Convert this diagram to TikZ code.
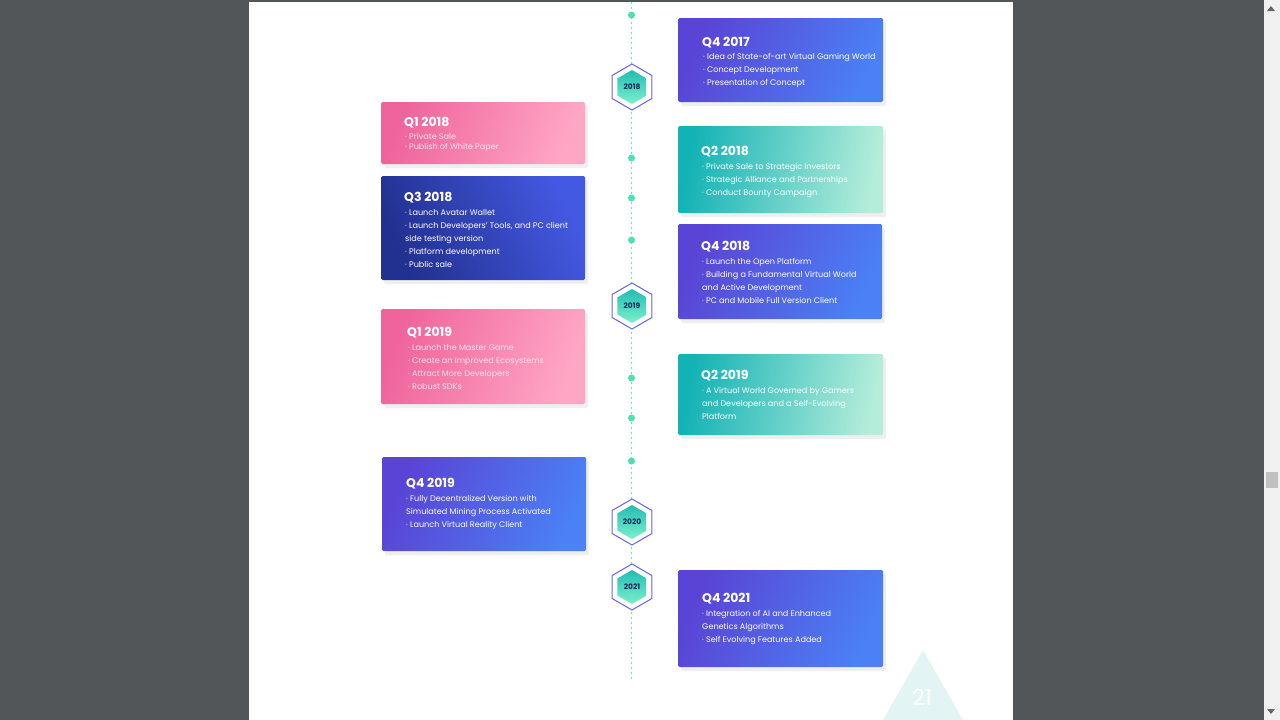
\documentclass[tikz,border=0pt]{standalone}
\usepackage{fontspec}
\setmainfont{Poppins}
\usetikzlibrary{shapes.geometric, shadows, positioning}

\definecolor{viewer}{HTML}{525659}
\definecolor{scrollbg}{HTML}{F1F1F1}
\definecolor{scrollthumb}{HTML}{C1C1C1}
\definecolor{violetL}{HTML}{5A44D5}
\definecolor{violetR}{HTML}{4B80F6}
\definecolor{pinkL}{HTML}{EF649B}
\definecolor{pinkR}{HTML}{FFA6C5}
\definecolor{tealL}{HTML}{12B2B5}
\definecolor{tealR}{HTML}{B4EDDA}
\definecolor{navyL}{HTML}{22308F}
\definecolor{navyR}{HTML}{4459E2}
\definecolor{mint}{HTML}{4CE0B2}
\definecolor{hextop}{HTML}{22BDB3}
\definecolor{hexbot}{HTML}{7CF0CC}
\definecolor{hexline}{HTML}{6466E2}
\definecolor{hexnavy}{HTML}{1A2A5E}
\definecolor{pinktext}{HTML}{FFE3EE}
\definecolor{pagenum}{HTML}{E2F5F4}

\tikzstyle{card} = [rectangle, rounded corners=1.5pt, inner sep=0pt,
  drop shadow={opacity=0.12, shadow xshift=3pt, shadow yshift=-4pt}]
\tikzstyle{violet} = [left color=violetL, right color=violetR, shading angle=65]
\tikzstyle{pink} = [left color=pinkL, right color=pinkR, shading angle=70]
\tikzstyle{teal} = [left color=tealL, right color=tealR, shading angle=80]
\tikzstyle{navy} = [left color=navyL, right color=navyR, shading angle=115]
\tikzstyle{quarter} = [anchor=west, inner sep=0pt, text=white,
  font=\fontsize{12.5}{14}\selectfont\bfseries]
\tikzstyle{items} = [anchor=north west, inner sep=0pt, align=left, text=white,
  font=\fontsize{8.1}{13}\selectfont]
\tikzstyle{hexout} = [regular polygon, regular polygon sides=6, shape border rotate=30,
  minimum size=46pt, draw=hexline, line width=1pt, fill=white, inner sep=0pt]
\tikzstyle{hexin} = [regular polygon, regular polygon sides=6, shape border rotate=30,
  minimum size=34pt, top color=hextop, bottom color=hexbot, inner sep=0pt,
  text=hexnavy, font=\fontsize{7.5}{8}\selectfont\bfseries]
\tikzstyle{dot} = [circle, fill=mint, inner sep=0pt, minimum size=7pt]

\begin{document}
\begin{tikzpicture}[x=1pt, y=-1pt]
\useasboundingbox (0,0) rectangle (1280,720);
\fill [viewer] (0,0) rectangle (1280,720);
\fill [white] (249,2) rectangle (1013,720);
\fill [scrollbg] (1264,0) rectangle (1280,720);
\fill [scrollthumb] (1266,472) rectangle (1278,488);
\fill [black!60] (1267,11) -- (1275,11) -- (1271,6) -- cycle;
\fill [black!60] (1267,709) -- (1275,709) -- (1271,714) -- cycle;

% page number
\fill [pagenum] (883,720) -- (923,650) -- (963,720) -- cycle;
\node [text=white, font=\fontsize{22}{22}\selectfont] (page) at (922,697) {21};

% timeline
\coordinate (top) at (631.5,2);
\coordinate (bottom) at (631.5,680);
\draw [mint!85, line width=1.7pt, dash pattern=on 1.7pt off 3.3pt] (top) -- (bottom);
\foreach \y [count=\i] in {15,158,198,240,378,418,461}
  \node [dot] (dot\i) at (631.5,\y) {};

\node [hexout] (h2018o) at (632,87) {};
\node [hexin] (h2018) at (632,87) {2018};
\node [hexout] (h2019o) at (632,306) {};
\node [hexin] (h2019) at (632,306) {2019};
\node [hexout] (h2020o) at (632,522) {};
\node [hexin] (h2020) at (632,522) {2020};
\node [hexout] (h2021o) at (632,587) {};
\node [hexin] (h2021) at (632,587) {2021};

% right column
\node [card, violet, minimum width=205pt, minimum height=84pt] (q417) at (780.5,60) {};
\node [quarter] (q417t) at (702,42.5) {Q4 2017};
\node [items] (q417i) at (703,53.5) {· Idea of State-of-art Virtual Gaming World\\· Concept Development\\· Presentation of Concept};

\node [card, teal, minimum width=205pt, minimum height=87pt] (q218) at (780.5,169.5) {};
\node [quarter] (q218t) at (701,151.5) {Q2 2018};
\node [items] (q218i) at (702,163.5) {· Private Sale to Strategic Investors\\· Strategic Alliance and Partnerships\\· Conduct Bounty Campaign};

\node [card, violet, minimum width=204pt, minimum height=95pt] (q418) at (780,271.5) {};
\node [quarter] (q418t) at (701,246.5) {Q4 2018};
\node [items] (q418i) at (702,258.5) {· Launch the Open Platform\\· Building a Fundamental Virtual World\\and Active Development\\· PC and Mobile Full Version Client};

\node [card, teal, minimum width=205pt, minimum height=81pt] (q219) at (780.5,394.5) {};
\node [quarter] (q219t) at (701,375.5) {Q2 2019};
\node [items] (q219i) at (702,387.5) {· A Virtual World Governed by Gamers\\and Developers and a Self-Evolving\\Platform};

\node [card, violet, minimum width=205pt, minimum height=97pt] (q421) at (780.5,618.5) {};
\node [quarter] (q421t) at (702,598.5) {Q4 2021};
\node [items] (q421i) at (702,610.5) {· Integration of AI and Enhanced\\Genetics Algorithms\\· Self Evolving Features Added};

% left column
\node [card, pink, minimum width=204pt, minimum height=62pt] (q118) at (483,133) {};
\node [quarter] (q118t) at (404,122.5) {Q1 2018};
\node [items, text=pinktext, font=\fontsize{8.1}{10}\selectfont] (q118i) at (405,133.5) {· Private Sale\\· Publish of White Paper};

\node [card, navy, minimum width=204pt, minimum height=104pt] (q318) at (483,228) {};
\node [quarter] (q318t) at (404,197.5) {Q3 2018};
\node [items] (q318i) at (405,209.5) {· Launch Avatar Wallet\\· Launch Developers’ Tools, and PC client\\side testing version\\· Platform development\\· Public sale};

\node [card, pink, minimum width=204pt, minimum height=95pt] (q119) at (483,356.5) {};
\node [quarter] (q119t) at (407,332.5) {Q1 2019};
\node [items, text=pinktext] (q119i) at (408,344.5) {· Launch the Master Game\\· Create an Improved Ecosystems\\· Attract More Developers\\· Robust SDKs};

\node [card, violet, minimum width=204pt, minimum height=94pt] (q419) at (484,504) {};
\node [quarter] (q419t) at (406,483.5) {Q4 2019};
\node [items] (q419i) at (406,495.5) {· Fully Decentralized Version with\\Simulated Mining Process Activated\\· Launch Virtual Reality Client};
\end{tikzpicture}
\end{document}
